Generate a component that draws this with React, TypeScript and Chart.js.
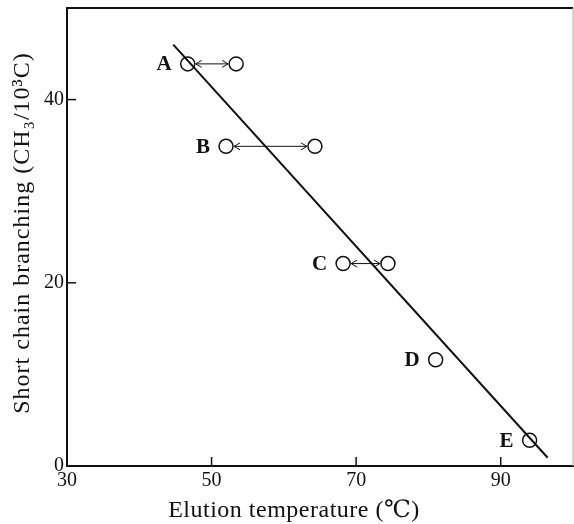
import React, { useEffect, useRef } from "react";
import { Chart, registerables } from "chart.js";

Chart.register(...registerables);

// ---- data ----
const sampleNames = ["A", "B", "C", "D", "E"];
const elutionLow = [46.7, 52.0, 68.2, 81.0, 94.0];
const elutionHigh: (number | null)[] = [53.4, 64.3, 74.4, null, null];
const branching = [43.9, 34.9, 22.1, 11.6, 2.8];
const fitLineX = [44.7, 96.5];
const fitLineY = [46.0, 0.9];
const xTickValues = [30, 50, 70, 90];
const yTickValues = [0, 20, 40];
const xTitle = "Elution temperature (\u2103)";
const yTitle = "Short chain branching (CH\u2083/10\u00b3C)";

const SERIF = "'Liberation Serif', 'DejaVu Serif', serif";

const decorPlugin = {
  id: "decor",
  afterDatasetsDraw(chart: any) {
    const ctx = chart.ctx;
    const xs = chart.scales.x;
    const ys = chart.scales.y;
    const ca = chart.chartArea;
    ctx.save();
    // box (top and right)
    ctx.strokeStyle = "#111";
    ctx.lineWidth = 2;
    ctx.beginPath();
    ctx.moveTo(ca.left, ca.top);
    ctx.lineTo(ca.right, ca.top);
    ctx.stroke();
    ctx.strokeStyle = "#aaa";
    ctx.lineWidth = 1;
    ctx.beginPath();
    ctx.moveTo(ca.right, ca.top);
    ctx.lineTo(ca.right, ca.bottom);
    ctx.stroke();
    // inward ticks
    ctx.strokeStyle = "#111";
    ctx.lineWidth = 1.5;
    xTickValues.forEach((v) => {
      if (v === xs.min) return;
      const px = xs.getPixelForValue(v);
      ctx.beginPath();
      ctx.moveTo(px, ca.bottom);
      ctx.lineTo(px, ca.bottom - 9);
      ctx.stroke();
    });
    yTickValues.forEach((v) => {
      if (v === ys.min) return;
      const py = ys.getPixelForValue(v);
      ctx.beginPath();
      ctx.moveTo(ca.left, py);
      ctx.lineTo(ca.left + 9, py);
      ctx.stroke();
    });
    // double arrows
    const r = 7;
    ctx.lineWidth = 1;
    sampleNames.forEach((_, i) => {
      const hi = elutionHigh[i];
      if (hi == null) return;
      const y = ys.getPixelForValue(branching[i]);
      const x1 = xs.getPixelForValue(elutionLow[i]) + r + 1;
      const x2 = xs.getPixelForValue(hi) - r - 1;
      ctx.beginPath();
      ctx.moveTo(x1, y);
      ctx.lineTo(x2, y);
      ctx.moveTo(x1 + 6, y - 3.5);
      ctx.lineTo(x1, y);
      ctx.lineTo(x1 + 6, y + 3.5);
      ctx.moveTo(x2 - 6, y - 3.5);
      ctx.lineTo(x2, y);
      ctx.lineTo(x2 - 6, y + 3.5);
      ctx.stroke();
    });
    // sample labels
    ctx.fillStyle = "#111";
    ctx.font = `bold 21px ${SERIF}`;
    ctx.textAlign = "right";
    ctx.textBaseline = "middle";
    sampleNames.forEach((n, i) => {
      const x = xs.getPixelForValue(elutionLow[i]) - 16;
      const y = ys.getPixelForValue(branching[i]) + 1;
      ctx.fillText(n, x, y);
    });
    // axis titles
    ctx.font = `24px ${SERIF}`;
    ctx.textAlign = "center";
    ctx.textBaseline = "alphabetic";
    (ctx as any).letterSpacing = "0.5px";
    ctx.fillText(xTitle, 294, 517);
    (ctx as any).letterSpacing = "1px";
    ctx.save();
    ctx.translate(29, 233);
    ctx.rotate(-Math.PI / 2);
    ctx.fillText(yTitle, 0, 0);
    ctx.restore();
    ctx.restore();
  },
};

export default function App() {
  const ref = useRef<HTMLCanvasElement | null>(null);
  useEffect(() => {
    if (!ref.current) return;
    const chart = new Chart(ref.current, {
      type: "scatter",
      data: {
        datasets: [
          {
            type: "line",
            data: fitLineX.map((x, i) => ({ x, y: fitLineY[i] })),
            borderColor: "#111",
            borderWidth: 2,
            pointRadius: 0,
            fill: false,
          } as any,
          {
            data: [
              ...elutionLow.map((x, i) => ({ x, y: branching[i] })),
              ...elutionHigh
                .map((x, i) => (x == null ? null : { x, y: branching[i] }))
                .filter((p) => p !== null),
            ] as any,
            pointStyle: "circle",
            pointRadius: 7,
            pointBackgroundColor: "#fff",
            pointBorderColor: "#111",
            pointBorderWidth: 1.5,
          },
        ],
      },
      options: {
        animation: false,
        responsive: false,
        devicePixelRatio: 1,
        layout: { autoPadding: false, padding: { top: 8, right: 1, left: 0, bottom: 0 } },
        plugins: {
          legend: { display: false },
          tooltip: { enabled: false },
        },
        scales: {
          x: {
            type: "linear",
            min: 30,
            max: 100,
            afterBuildTicks: (s: any) => {
              s.ticks = xTickValues.map((v) => ({ value: v }));
            },
            afterFit: (s: any) => {
              s.height = 58;
              s.paddingLeft = 0;
              s.paddingRight = 0;
            },
            grid: { display: false, drawTicks: false },
            border: { display: true, color: "#111", width: 2 },
            ticks: {
              color: "#111",
              padding: 3,
              maxRotation: 0,
              font: { family: SERIF, size: 20 },
            },
          },
          y: {
            type: "linear",
            min: 0,
            max: 50,
            afterBuildTicks: (s: any) => {
              s.ticks = yTickValues.map((v) => ({ value: v }));
            },
            afterFit: (s: any) => {
              s.width = 67;
              s.paddingTop = 0;
              s.paddingBottom = 0;
            },
            grid: { display: false, drawTicks: false },
            border: { display: true, color: "#111", width: 2 },
            ticks: {
              color: "#111",
              padding: 3,
              font: { family: SERIF, size: 20 },
            },
          },
        },
      },
      plugins: [decorPlugin],
    });
    return () => chart.destroy();
  }, []);
  return (
    <div style={{ position: "absolute", left: 0, top: 0, width: 574, height: 524, background: "#fff" }}>
      <canvas ref={ref} width={574} height={524} />
    </div>
  );
}
